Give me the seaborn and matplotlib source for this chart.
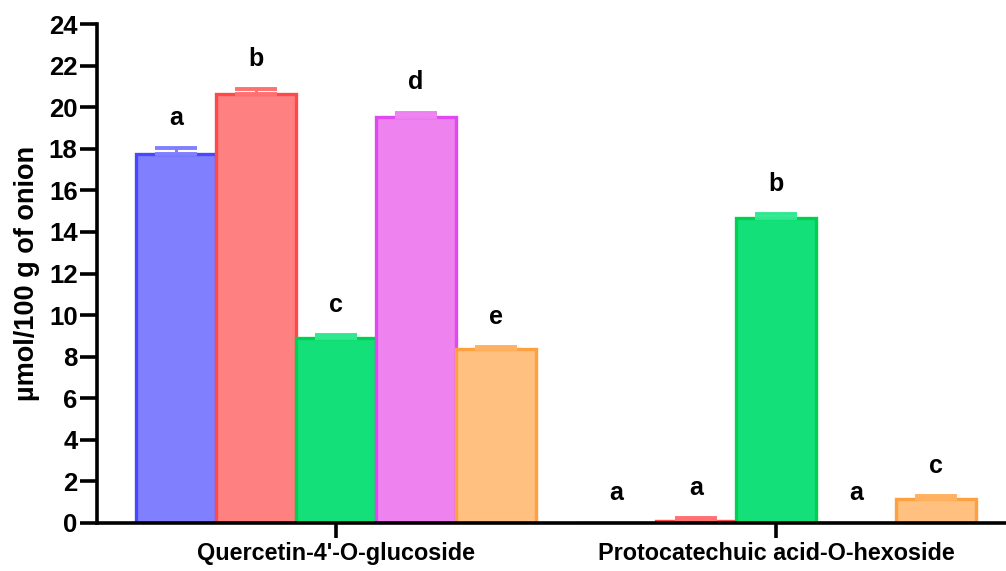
import numpy as np
import pandas as pd
import matplotlib
matplotlib.use("Agg")
import matplotlib.pyplot as plt
import seaborn as sns

# Compounds on the x axis and the five treatments drawn as bars within each
compounds = ["Quercetin-4'-O-glucoside", "Protocatechuic acid-O-hexoside"]
treatments = ["T1", "T2", "T3", "T4", "T5"]

# Mean content (µmol/100 g of onion) per treatment, in compound order
means = {
    "T1": [17.75, 0.0],
    "T2": [20.65, 0.12],
    "T3": [8.92, 14.68],
    "T4": [19.52, 0.0],
    "T5": [8.38, 1.16],
}
# Standard deviations (drawn as upper error bars only)
sds = {
    "T1": [0.30, 0.0],
    "T2": [0.22, 0.12],
    "T3": [0.10, 0.18],
    "T4": [0.22, 0.0],
    "T5": [0.10, 0.13],
}
# Significance letters
letters = {
    "T1": ["a", "a"],
    "T2": ["b", "a"],
    "T3": ["c", "b"],
    "T4": ["d", "a"],
    "T5": ["e", "c"],
}

fill_colors = ["#8080FF", "#FF8080", "#14E07A", "#EE82EE", "#FFC080"]
edge_colors = ["#4848FF", "#FF4848", "#00D050", "#E048F0", "#FFA040"]
err_colors = ["#8080FF", "#FF7070", "#30E890", "#EE80F0", "#FFB060"]

rows = []
for t in treatments:
    for c, m in zip(compounds, means[t]):
        rows.append({"compound": c, "treatment": t, "value": m})
df = pd.DataFrame(rows)

sns.set_theme(style="white")
plt.rcParams["font.family"] = ["Liberation Sans", "DejaVu Sans"]
plt.rcParams["font.weight"] = "bold"

fig = plt.figure(figsize=(10.06, 5.71), dpi=100)
ax = fig.add_axes([97 / 1006, 48 / 571, 1 - 97 / 1006, 499 / 571])

sns.barplot(
    data=df, x="compound", y="value", hue="treatment",
    order=compounds, hue_order=treatments, palette=fill_colors,
    errorbar=None, width=0.909, gap=0.0, saturation=1.0,
    legend=False, ax=ax,
)

for i, (t, cont) in enumerate(zip(treatments, ax.containers)):
    xs, hs, es = [], [], []
    for bar, sd in zip(cont, sds[t]):
        bar.set_edgecolor(edge_colors[i])
        bar.set_linewidth(2.4)
        xs.append(bar.get_x() + bar.get_width() / 2)
        hs.append(bar.get_height())
        es.append(sd)
    xs, hs, es = np.array(xs), np.array(hs), np.array(es)
    mask = es > 0
    if mask.any():
        ax.errorbar(
            xs[mask], hs[mask], yerr=[np.zeros(mask.sum()), es[mask]],
            fmt="none", ecolor=err_colors[i], elinewidth=2.2,
            capsize=15, capthick=2.8, zorder=1,
        )
    for x, h, e, lab in zip(xs, hs, es, letters[t]):
        ax.text(x, h + e + 1.45, lab, ha="center", va="center",
                fontsize=18, fontweight="bold", color="black")

ax.set_ylim(0, 24)
ax.set_xlim(-0.543, 1.523)
ax.set_yticks(np.arange(0, 25, 2))
ax.set_xlabel("")
ax.set_ylabel("µmol/100 g of onion", fontsize=19.5, fontweight="bold",
              labelpad=6, color="black")

for s in ["top", "right"]:
    ax.spines[s].set_visible(False)
for s in ["left", "bottom"]:
    ax.spines[s].set_linewidth(2.6)
    ax.spines[s].set_color("black")

ax.tick_params(axis="y", direction="out", length=12, width=2.6, color="black",
               labelsize=18.5, pad=2, left=True)
ax.tick_params(axis="x", direction="out", length=11, width=2.6, color="black",
               labelsize=16.8, pad=3, bottom=True)
for lab in ax.get_xticklabels() + ax.get_yticklabels():
    lab.set_fontweight("bold")
    lab.set_color("black")

fig.savefig("out.png", dpi=100)
